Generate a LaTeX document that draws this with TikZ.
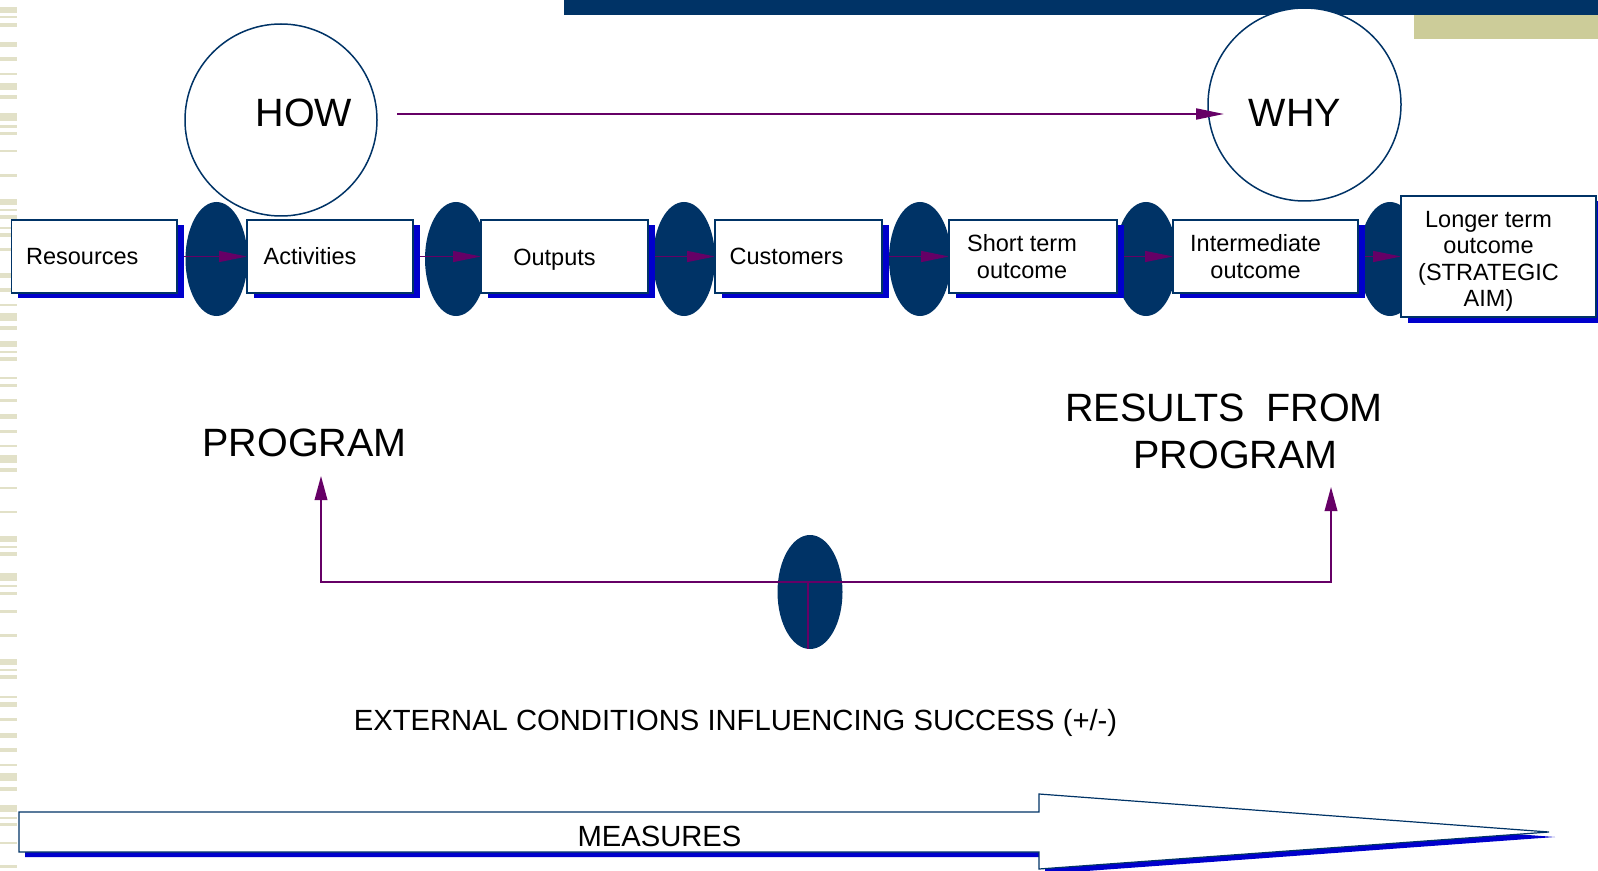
\documentclass[tikz,border=0pt]{standalone}
\usepackage{fontspec}
\setmainfont{Liberation Sans}
\usetikzlibrary{positioning,arrows.meta,shapes.geometric,shadows,backgrounds}

\definecolor{navy}{RGB}{0,51,102}
\definecolor{shblue}{RGB}{0,0,204}
\definecolor{lmpurple}{RGB}{102,0,102}
\definecolor{stripe}{RGB}{226,225,200}
\definecolor{khaki}{RGB}{204,204,153}

\begin{document}
\begin{tikzpicture}[
    x=0.5pt, y=-0.5pt,
    every node/.style={inner sep=0pt},
    stage/.style={rectangle, draw=navy, line width=0.6pt, fill=white,
                  minimum height=36.5pt, outer sep=0pt,
                  drop shadow={shadow xshift=3.25pt, shadow yshift=-2.75pt,
                               fill=shblue, opacity=1}},
    stxt/.style={align=center, font=\fontsize{11.75}{13.25}\selectfont},
    link/.style={ellipse, fill=navy, minimum width=31pt, minimum height=57pt},
    bubble/.style={circle, draw=navy, line width=0.75pt, fill=white,
                   minimum size=96pt},
    big/.style={align=center, font=\fontsize{19.75}{23.5}\selectfont},
    mid/.style={font=\fontsize{14.6}{17}\selectfont},
    arr/.style={-{Triangle[length=14pt,width=5.5pt]}, draw=lmpurple,
                line width=0.7pt},
    uparr/.style={-{Triangle[length=12pt,width=6.3pt]}, draw=lmpurple,
                  line width=0.8pt}
]
\useasboundingbox (0,0) rectangle (1598,871);

% page background, side stripes, top bar
\begin{pgfonlayer}{background}
\fill[white] (0,0) rectangle (1598,871);
\foreach \a/\b in {7/13, 16.5/18, 23/27, 42/47, 57/61, 73/75, 83/90, 95/99,
    113/121, 125/128, 132/135, 150/152, 174/177, 199/205, 209/211, 215/219,
    227/229, 233/237, 248/251, 273/278, 288/292, 304/306, 313/321, 326/330,
    341/347, 351/353, 357/361, 377/379, 384/387, 399/402, 414/419, 430/433,
    445/447, 455/463, 468/472, 487/489, 511/513, 536/542, 546/548, 552/556,
    573/581, 585/587, 592/595, 610/613, 634/637, 659/665, 669/671, 675/679,
    696/698, 702/707, 718/721, 733/738, 748/752, 764/766, 773/781, 787/791,
    805/812, 817/819, 823/826, 842/844, 865/868}
  \fill[stripe] (0,\a) rectangle (17,\b);
\end{pgfonlayer}
\fill[navy] (564,0) rectangle (1598,15.5);
\fill[khaki] (1414,15.5) rectangle (1598,39);

% how / why
\node[bubble] (how) at (281,120) {};
\node[bubble, minimum size=96.5pt] (why) at (1304.5,104.5) {};
\node[big, anchor=base] (howT) at (304,127) {HOW};
\node[big, anchor=base] (whyT) at (1295,127) {WHY};
\coordinate (hw) at (397,114);
\coordinate (wh) at (1224,114);
\draw[arr, line width=1pt] (hw) -- (wh);

% chain of stages
\node[stage, minimum width=82.75pt] (res) at (94.25,256.5) {};
\node[stage, minimum width=83pt, right=35pt of res] (act) {};
\node[stage, minimum width=83.5pt, right=34pt of act] (out) {};
\node[stage, minimum width=83.5pt, right=33.5pt of out] (cus) {};
\node[stage, minimum width=84pt, right=33.5pt of cus] (sho) {};
\node[stage, minimum width=92.5pt, right=28pt of sho] (int) {};
\node[stage, minimum width=97.5pt, minimum height=60.5pt, right=21.5pt of int] (lng) {};

\node[stxt] (resT) at ([xshift=-6pt]res.center) {Resources};
\node[stxt] (actT) at ([xshift=-10pt]act.center) {Activities};
\node[stxt] (outT) at ([xshift=-5pt,yshift=-1.5pt]out.center) {Outputs};
\node[stxt] (cusT) at ([xshift=-6pt]cus.center) {Customers};
\node[stxt] (shoT) at ([xshift=-5.5pt]sho.center) {Short term\\outcome};
\node[stxt] (intT) at ([xshift=-5pt]int.center) {Intermediate\\outcome};
\node[stxt] (lngT) at ([xshift=-5pt,yshift=-2.5pt]lng.center)
  {Longer term\\outcome\\(STRATEGIC\\AIM)};

\begin{pgfonlayer}{background}
\foreach \n/\x in {l1/216.5, l2/456, l3/684, l4/920, l5/1146, l6/1390}
  \node[link] (\n) at (\x,259) {};
\draw[arr] (res) -- (act);
\draw[arr] (act) -- (out);
\draw[arr] (out) -- (cus);
\draw[arr] (cus) -- (sho);
\draw[arr] (sho) -- (int);
\draw[arr] (int) -- (lng);
\end{pgfonlayer}

% program and results
\node[big, anchor=base] (prg) at (304.5,456) {PROGRAM};
\node[big] (rsl) at (1235.5,431) {RESULTS~~FROM\hspace*{11.5pt}\\PROGRAM};

\node[link, minimum width=32.5pt] (ext) at (810,592) {};
\coordinate (jn) at (808,582);
\coordinate (pl) at (321,476);
\coordinate (pr) at (1331,487);
\draw[uparr] (jn) -| (pl);
\draw[uparr] (jn) -| (pr);
\draw[lmpurple, line width=0.8pt] (jn) -- (jn |- ext.south);

\node[mid, anchor=base] (extT) at (735.5,730)
  {EXTERNAL CONDITIONS INFLUENCING SUCCESS (+/-)};

% measures arrow
\draw[navy, line width=0.6pt, fill=white,
      drop shadow={shadow xshift=3pt, shadow yshift=-2.5pt, fill=shblue, opacity=1}]
  (19,812) -- (1039,812) -- (1039,794) -- (1549,832) -- (1039,869)
  -- (1039,852) -- (19,852) -- cycle;
\node[mid, anchor=base] (meaT) at (659.5,846) {MEASURES};
\end{tikzpicture}
\end{document}
